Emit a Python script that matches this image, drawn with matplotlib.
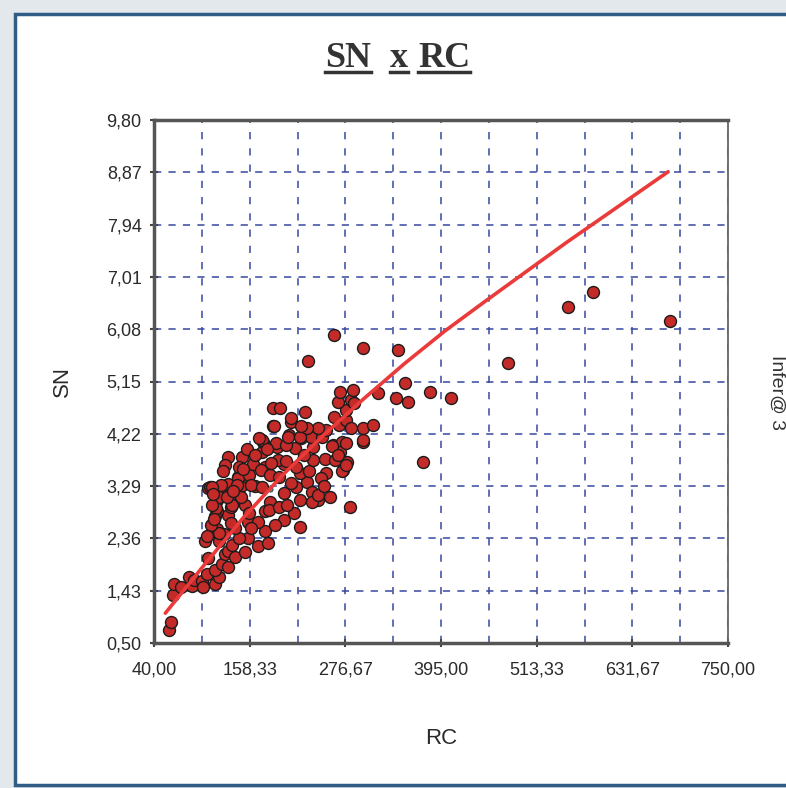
import numpy as np
import matplotlib.pyplot as plt
from matplotlib.patches import Rectangle
from matplotlib.lines import Line2D

# scatter data (RC, SN)
rc = [59, 61, 63, 65, 73, 83, 87, 90, 99, 101, 105, 116, 120, 116, 124, 132,
      107, 128, 132, 140, 152, 103, 120, 136, 156, 169, 181, 116, 126, 145,
      118, 140, 177, 132, 156, 169, 118, 177, 136, 152, 118, 183, 107, 122,
      148, 165, 132, 144, 156,
      120, 135, 201, 220, 116, 158, 182, 213, 135, 220, 282, 243, 258, 229,
      201, 109, 123, 144, 158, 112, 143, 160, 174, 216, 236, 137, 148, 195,
      236, 243, 117, 120, 110, 112, 114, 105,
      132, 149, 128, 163, 177, 201, 220, 145, 172, 183, 216, 232, 193, 203,
      174, 237, 252, 264, 279, 274, 272, 277, 253, 246,
      175, 192, 215, 237, 174, 191, 203, 207, 222, 234, 206, 220, 261, 273,
      270, 260, 267, 277, 298, 299, 248, 253, 269, 243, 229, 187, 189, 209,
      222, 210, 187, 196, 227, 263, 278, 277, 267, 284, 270, 286, 288, 298,
      284, 311, 317,
      113, 125, 130, 138, 150, 155, 165, 170, 180, 185, 195, 210, 225, 160,
      190, 205, 250,
      231, 263, 298, 342, 350, 381, 407, 339, 354, 373, 478, 552, 583, 678]
sn = [0.74, 0.88, 1.35, 1.55, 1.50, 1.67, 1.52, 1.62, 1.61, 1.50, 1.73, 1.55,
      1.67, 1.79, 1.90, 1.85, 2.02, 2.08, 2.14, 2.03, 2.11, 2.31, 2.31, 2.25,
      2.37, 2.22, 2.28, 2.49, 2.43, 2.37, 2.52, 2.54, 2.49, 2.78, 2.66, 2.66,
      2.84, 2.84, 2.98, 2.95, 3.04, 3.01, 3.25, 3.25, 3.30, 3.30, 3.33, 3.45,
      3.45,
      2.46, 2.63, 2.69, 2.57, 2.75, 2.81, 2.86, 2.81, 2.92, 3.04, 2.92, 3.04,
      3.10, 3.37, 3.16, 3.28, 3.31, 3.43, 3.49, 3.28, 3.31, 3.31, 3.28, 3.28,
      3.19, 2.95, 3.10, 2.92, 3.00, 3.14, 2.90, 3.10, 2.60, 2.95, 2.70, 2.40,
      3.81, 3.81, 3.66, 3.69, 3.63, 3.69, 3.52, 3.63, 3.58, 3.49, 3.63, 3.55,
      3.75, 3.73, 3.90, 3.75, 3.78, 3.75, 3.72, 3.58, 3.55, 3.66, 3.52, 3.43,
      4.08, 3.99, 3.96, 3.99, 4.11, 4.05, 4.02, 4.20, 4.14, 4.17, 4.17, 4.17,
      4.02, 4.08, 3.90, 4.00, 3.84, 4.05, 4.08, 4.11, 4.17, 4.29, 4.38, 4.32,
      4.32, 4.35, 4.35, 4.43, 4.35, 4.50, 4.67, 4.67, 4.61, 4.52, 4.46, 4.64,
      4.79, 4.82, 4.97, 5.00, 4.76, 4.32, 4.32, 4.38, 4.94,
      3.15, 3.55, 3.10, 3.20, 3.60, 3.95, 3.85, 4.15, 3.95, 3.70, 3.45, 3.35,
      3.85, 2.55, 2.60, 2.95, 3.30,
      5.52, 5.98, 5.75, 5.71, 5.13, 4.97, 4.86, 4.85, 4.79, 3.71, 5.48, 6.47,
      6.75, 6.23]

# highlighted point
sel_rc = [184]
sel_sn = [3.24]

# trend line
trend_rc = [54, 100, 150, 200, 250, 300, 350, 400, 450, 500, 550, 600, 676]
trend_sn = [1.03, 1.85, 2.72, 3.50, 4.20, 4.85, 5.47, 6.05, 6.58, 7.10,
            7.62, 8.12, 8.88]

x_ticks = [40.00, 158.33, 276.67, 395.00, 513.33, 631.67, 750.00]
y_ticks = [0.50, 1.43, 2.36, 3.29, 4.22, 5.15, 6.08, 7.01, 7.94, 8.87, 9.80]

W, H = 786, 788
fig = plt.figure(figsize=(W / 100, H / 100), dpi=100)
fig.patch.set_facecolor('#e2e8eb')

frame = Rectangle((15 / W, 3 / H), 1.0, 1 - 17 / H, transform=fig.transFigure,
                  facecolor='white', edgecolor='#2f5d85', linewidth=2.5,
                  clip_on=False, zorder=-5)
fig.patches.append(frame)

ax = fig.add_axes([154 / W, 1 - 643 / H, 574 / W, 523 / H])
ax.set_facecolor('white')

lab_font = 'Liberation Sans'
ax.set_xlim(x_ticks[0], x_ticks[-1])
ax.set_ylim(y_ticks[0], y_ticks[-1])
ax.set_xticks(x_ticks)
ax.set_xticklabels([f"{v:.2f}".replace('.', ',') for v in x_ticks],
                   fontsize=13, family=lab_font, color='#2a2a2a')
ax.set_yticks(y_ticks)
ax.set_yticklabels([f"{v:.2f}".replace('.', ',') for v in y_ticks],
                   fontsize=13, family=lab_font, color='#2a2a2a')
minor_x = [(a + b) / 2 for a, b in zip(x_ticks[:-1], x_ticks[1:])]
ax.set_xticks(minor_x, minor=True)
ax.tick_params(which='major', direction='inout', length=6, width=1.5,
               color='#444444')
ax.tick_params(axis='x', which='major', pad=10)
ax.tick_params(axis='y', which='major', pad=6)
ax.tick_params(which='minor', length=0)

gcol = '#3848a0'
ax.grid(axis='y', which='major', color=gcol, linestyle=(0, (4, 4)),
        linewidth=1.3, alpha=0.85)
ax.grid(axis='x', which='both', color=gcol, linestyle=(0, (4, 5)),
        linewidth=1.3, alpha=0.85)
ax.set_axisbelow(True)

for side in ['left', 'bottom', 'top']:
    ax.spines[side].set_color('#555555')
    ax.spines[side].set_linewidth(2.5)
ax.spines['right'].set_color('#666666')
ax.spines['right'].set_linewidth(1.3)

ax.scatter(rc, sn, s=74, facecolor='#c42a28', edgecolor='#1c1c1c',
           linewidth=1.0, zorder=3, clip_on=False)
ax.scatter(sel_rc, sel_sn, s=14, facecolor='#30a0a8', edgecolor='#1c1c1c',
           linewidth=0.5, zorder=4)
ax.plot(trend_rc, trend_sn, color='#ea3a3a', linewidth=2.6, zorder=5,
        solid_capstyle='round')

ax.set_xlabel('RC', fontsize=16, family=lab_font, color='#2a2a2a', labelpad=36)
ax.set_ylabel('SN', fontsize=16, family=lab_font, color='#2a2a2a', labelpad=24)

# underlined title, word by word
words = ['SN', 'x', 'RC']
word_x = [325, 390, 418]
texts = []
for w, xp in zip(words, word_x):
    t = fig.text(xp / W, 1 - 67 / H, w, fontsize=26, fontweight='bold',
                 family='Liberation Serif', color='#333333', ha='left',
                 va='baseline')
    texts.append(t)
fig.canvas.draw()
rend = fig.canvas.get_renderer()
for t in texts:
    bb = t.get_window_extent(renderer=rend)
    yl = (H - 72) / H
    fig.lines.append(Line2D([bb.x0 / W, bb.x1 / W], [yl, yl],
                            transform=fig.transFigure, color='#333333',
                            linewidth=2.5))

fig.text(768 / W, 1 - 355 / H, 'Infer@ 3', rotation=270, fontsize=14,
         family=lab_font, color='#333333', ha='left', va='top')

fig.savefig('out.png', dpi=100, facecolor=fig.get_facecolor())
